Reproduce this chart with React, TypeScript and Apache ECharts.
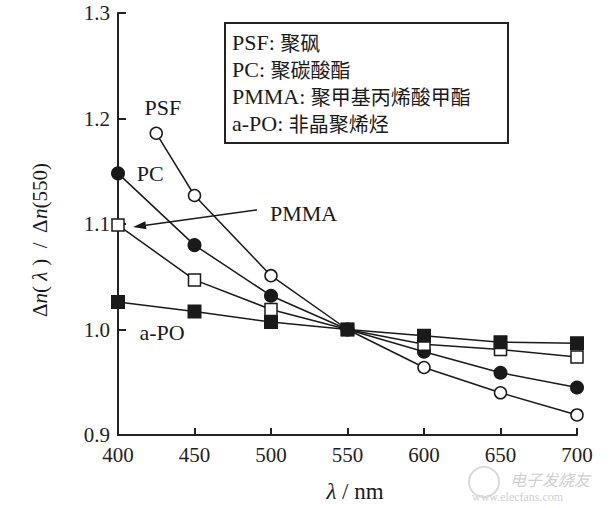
import React, { useEffect, useRef } from "react";
import * as echarts from "echarts";

const psfX = [425, 450, 500, 550, 600, 650, 700];
const psfY = [1.186, 1.127, 1.051, 1.0, 0.964, 0.94, 0.919];
const wl = [400, 450, 500, 550, 600, 650, 700];
const pcY = [1.148, 1.08, 1.032, 1.0, 0.979, 0.959, 0.945];
const pmmaY = [1.099, 1.047, 1.019, 1.0, 0.986, 0.981, 0.974];
const apoY = [1.026, 1.017, 1.007, 1.0, 0.994, 0.988, 0.987];

const legendLines = [
  ["PSF: ", "聚砜"],
  ["PC: ", "聚碳酸酯"],
  ["PMMA: ", "聚甲基丙烯酸甲酯"],
  ["a-PO: ", "非晶聚烯烃"],
];

// annotation anchors in data coordinates
const labelPSF = [429.4, 1.21];
const labelPC = [421, 1.148];
const labelPMMA = [499.3, 1.1104];
const labelAPO = [428.8, 0.9976];
const arrowFrom = [490.8, 1.1133];
const arrowTo = [409.8, 1.0972];

const SERIF = "'Liberation Serif', 'Times New Roman', serif";
const CJK = "'Noto Sans CJK SC', sans-serif";
const INK = "#1a1a1a";

export default function App() {
  const ref = useRef<HTMLDivElement>(null);
  useEffect(() => {
    if (!ref.current) return;
    const chart = echarts.init(ref.current, null, { renderer: "svg" });
    const lineStyle = { color: INK, width: 1.5 };
    const mk = (name: string, xs: number[], ys: number[], symbol: string, filled: boolean, size: number) => ({
      name,
      type: "line",
      data: xs.map((x, i) => [x, ys[i]]),
      symbol,
      symbolSize: size,
      showAllSymbol: true,
      clip: false,
      lineStyle,
      itemStyle: { color: filled ? INK : "#fff", borderColor: INK, borderWidth: 1.5 },
    });
    chart.setOption({
      animation: false,
      backgroundColor: "#fff",
      grid: { left: 118, right: 35, top: 13, bottom: 73 },
      xAxis: {
        type: "value",
        min: 400,
        max: 700,
        interval: 50,
        axisLine: { lineStyle: { color: "#222", width: 2 } },
        axisTick: { inside: true, length: 7, lineStyle: { color: "#222", width: 2 } },
        axisLabel: { fontFamily: SERIF, fontSize: 21, color: "#222", margin: 9 },
        splitLine: { show: false },
      },
      yAxis: {
        type: "value",
        min: 0.9,
        max: 1.3,
        interval: 0.1,
        axisLine: { show: true, lineStyle: { color: "#222", width: 2 } },
        axisTick: { show: true, inside: true, length: 8, lineStyle: { color: "#222", width: 2 } },
        axisLabel: {
          fontFamily: SERIF,
          fontSize: 21,
          color: "#222",
          margin: 8,
          formatter: (v: number) => v.toFixed(1),
        },
        splitLine: { show: false },
      },
      series: [
        mk("PSF", psfX, psfY, "circle", false, 12),
        mk("PC", wl, pcY, "circle", true, 12.5),
        mk("PMMA", wl, pmmaY, "rect", false, 12),
        mk("a-PO", wl, apoY, "rect", true, 12.5),
      ],
    });

    const px = (p: number[]) => chart.convertToPixel({ gridIndex: 0 }, p) as number[];
    const pPSF = px(labelPSF);
    const pPC = px(labelPC);
    const pPMMA = px(labelPMMA);
    const pAPO = px(labelAPO);
    const a0 = px(arrowFrom);
    const a1 = px(arrowTo);
    const ang = Math.atan2(a0[1] - a1[1], a0[0] - a1[0]);
    const hl = 13, hw = 4;
    const bx = a1[0] + Math.cos(ang) * hl;
    const by = a1[1] + Math.sin(ang) * hl;
    const nx = -Math.sin(ang) * hw;
    const ny = Math.cos(ang) * hw;

    const annText = (p: number[], t: string, align = "center") => ({
      type: "text",
      x: p[0],
      y: p[1],
      style: { text: t, font: `22px ${SERIF}`, fill: INK, align, verticalAlign: "middle" },
    });

    const graphics: any[] = [
      annText(pPSF, "PSF"),
      annText(pPC, "PC"),
      annText(pPMMA, "PMMA", "left"),
      annText(pAPO, "a-PO"),
      {
        type: "line",
        shape: { x1: a0[0], y1: a0[1], x2: bx, y2: by },
        style: { stroke: INK, lineWidth: 1.5 },
      },
      {
        type: "polygon",
        shape: { points: [[a1[0], a1[1]], [bx + nx, by + ny], [bx - nx, by - ny]] },
        style: { fill: INK },
      },
      {
        type: "rect",
        shape: { x: 225, y: 23, width: 283, height: 120 },
        style: { fill: "#fff", stroke: "#222", lineWidth: 2 },
      },
      {
        type: "text",
        x: 232,
        y: 29,
        style: {
          text: legendLines.map((l) => `{l|${l[0]}}{c|${l[1]}}`).join("\n"),
          rich: {
            l: { fontFamily: SERIF, fontSize: 22, fill: INK, lineHeight: 27 },
            c: { fontFamily: CJK, fontSize: 20, fill: INK, lineHeight: 27 },
          },
          verticalAlign: "top",
          align: "left",
        },
      },
      {
        type: "text",
        x: 40,
        y: 240,
        rotation: Math.PI / 2,
        style: {
          text: "{n|Δ}{i|n}{n|( }{i|λ}{n| )  /  Δ}{i|n}{n|(550)}",
          rich: {
            n: { fontFamily: SERIF, fontSize: 21, fill: INK },
            i: { fontFamily: SERIF, fontSize: 21, fontStyle: "italic", fill: INK },
          },
          align: "center",
          verticalAlign: "middle",
        },
      },
      {
        type: "text",
        x: 355,
        y: 491,
        style: {
          text: "{i|λ}{n| / nm}",
          rich: {
            n: { fontFamily: SERIF, fontSize: 23, fill: INK },
            i: { fontFamily: SERIF, fontSize: 23, fontStyle: "italic", fill: INK },
          },
          align: "center",
          verticalAlign: "middle",
        },
      },
      {
        type: "circle",
        shape: { cx: 484, cy: 482, r: 15 },
        style: { fill: "none", stroke: "#dadada", lineWidth: 2 },
      },
      {
        type: "text",
        x: 510,
        y: 479,
        style: { text: "电子发烧友", font: `italic 16px ${CJK}`, fill: "#d0d0d0", verticalAlign: "middle" },
      },
      {
        type: "text",
        x: 472,
        y: 497,
        style: { text: "www.elecfans.com", font: `12px ${SERIF}`, fill: "#d0d0d0", verticalAlign: "middle" },
      },
    ];
    chart.setOption({ graphic: graphics });
    return () => chart.dispose();
  }, []);
  return <div ref={ref} style={{ position: "absolute", left: 0, top: 0, width: 612, height: 508 }} />;
}
